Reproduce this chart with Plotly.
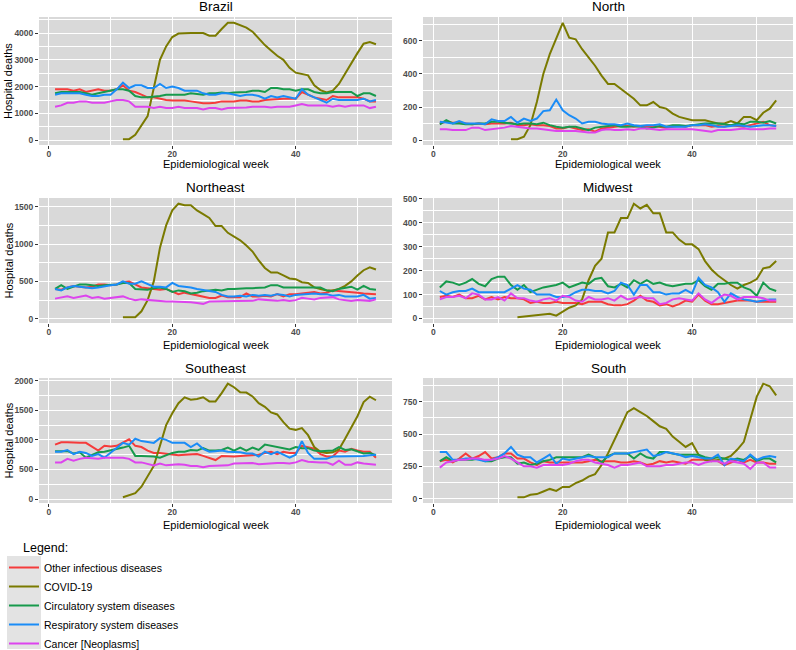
import plotly.graph_objects as go

weeks = list(range(1, 54))
series_names = ["Other infectious diseases", "COVID-19", "Circulatory system diseases",
                "Respiratory system diseases", "Cancer [Neoplasms]"]
colors = ["#F53B3B", "#7A7A00", "#179A4C", "#1A8CF7", "#DD44EE"]
regions = ["Brazil", "North", "Northeast", "Midwest", "Southeast", "South"]
y_dticks = [1000, 200, 500, 100, 500, 250]

# ---------------- Brazil ----------------
brazil_other = [1900,1900,1900,1850,1900,1800,1850,1900,1850,1850,
                1900,2050,1850,1800,1700,1600,1600,1550,1500,1480,
                1480,1480,1450,1420,1380,1380,1400,1450,1450,1450,
                1480,1480,1450,1450,1500,1520,1550,1550,1550,1550,
                1800,1700,1600,1550,1500,1650,1600,1600,1600,1600,
                1550,1450,1450]
brazil_covid = [None]*11 + [40,40,200,550,900,1950,3000,3500,3850,3980,
                4000,4000,4000,4000,3900,3900,4150,4380,4380,4300,
                4200,4050,3800,3550,3350,3150,3000,2700,2520,2480,
                2420,2050,1870,1780,1850,2100,2500,2900,3250,3600,
                3660,3580]
brazil_circ = [1750,1800,1800,1800,1800,1750,1700,1750,1800,1850,
               1900,1900,1850,1650,1600,1600,1620,1650,1700,1700,
               1700,1700,1750,1720,1700,1750,1750,1780,1750,1780,
               1800,1800,1850,1850,1800,1950,1950,1900,1900,1850,
               1900,1900,1800,1750,1750,1800,1800,1800,1800,1650,
               1750,1750,1650]
brazil_resp = [1700,1750,1750,1750,1750,1700,1650,1650,1700,1700,
               1900,2150,1950,2050,2050,1950,1950,2100,1950,2000,
               1950,1850,1850,1850,1750,1700,1700,1750,1750,1700,
               1650,1700,1700,1650,1550,1650,1600,1650,1600,1550,
               1900,1700,1600,1500,1400,1550,1500,1500,1500,1500,
               1550,1450,1500]
brazil_cancer = [1250,1300,1400,1400,1450,1450,1400,1400,1400,1450,
                 1500,1500,1450,1250,1250,1250,1200,1250,1200,1200,
                 1250,1200,1200,1200,1150,1200,1200,1150,1200,1200,
                 1220,1220,1250,1250,1250,1220,1250,1250,1250,1300,
                 1350,1300,1300,1300,1300,1250,1300,1250,1300,1300,
                 1300,1200,1250]

# ---------------- North ----------------
north_other = [100,110,105,105,100,95,100,95,100,100,
               100,105,90,90,95,90,90,85,70,70,
               80,70,60,65,50,70,75,80,85,85,
               80,85,80,85,80,75,80,85,80,90,
               90,90,80,85,80,90,85,80,90,100,
               110,90,85]
north_covid = [None]*11 + [5,5,20,90,230,400,520,620,710,620,
               610,550,500,450,390,340,340,310,280,250,
               210,210,230,200,190,160,140,130,120,120,
               120,110,100,100,115,100,140,140,120,165,
               190,240]
north_circ = [95,120,100,100,95,95,100,100,110,110,
              105,100,95,100,100,95,105,90,80,75,
              80,80,70,60,75,80,85,90,80,80,
              85,80,70,75,85,80,90,90,85,90,
              95,100,100,100,95,90,100,95,110,110,
              105,115,100]
north_resp = [110,105,100,115,100,100,100,95,125,115,
              115,140,105,130,115,130,175,180,245,180,
              150,130,100,110,110,100,95,95,90,100,
              90,85,90,90,95,80,80,80,80,90,
              90,95,90,80,80,85,90,85,80,85,
              90,90,85]
north_cancer = [65,65,60,60,60,75,75,60,65,70,
                75,85,80,75,70,70,65,60,55,55,
                55,55,50,45,45,60,65,60,60,65,
                60,70,70,65,60,65,65,65,65,65,
                60,55,50,60,60,60,65,70,65,65,
                65,70,70]

# ---------------- Northeast ----------------
northeast_other = [400,390,420,440,430,420,430,460,460,450,
                   460,490,500,460,420,410,400,390,400,370,
                   330,350,330,320,300,280,280,310,290,290,
                   290,340,300,300,310,300,330,300,330,330,
                   340,350,360,340,350,380,370,360,350,350,
                   340,330,330]
northeast_covid = [None]*11 + [20,20,20,100,250,500,950,1250,1450,1540,
                   1520,1520,1450,1400,1350,1240,1240,1150,1100,1050,
                   980,900,780,680,620,620,580,540,530,490,
                   480,420,400,380,380,400,440,500,580,650,
                   690,660]
northeast_circ = [400,450,400,430,460,460,450,440,450,450,
                  460,480,480,400,390,390,410,420,400,360,
                  380,370,340,350,370,380,390,380,400,400,
                  410,410,410,420,420,450,450,420,420,430,
                  430,420,420,420,380,370,400,420,430,390,
                  440,400,390]
northeast_resp = [400,380,420,440,430,420,410,420,440,450,
                  460,500,470,470,500,460,430,430,420,480,
                  440,430,420,400,390,380,360,320,300,300,
                  310,300,320,310,320,310,330,320,300,320,
                  330,340,340,330,330,310,320,300,300,300,
                  320,270,280]
northeast_cancer = [270,280,300,280,290,310,280,290,270,280,
                    290,300,270,250,260,250,250,240,230,230,
                    230,230,220,210,200,230,230,230,230,230,
                    240,240,240,260,250,240,240,250,240,250,
                    280,270,260,280,290,290,260,250,240,250,
                    250,240,260]

# ---------------- Midwest ----------------
midwest_other = [90,95,90,100,85,85,95,80,90,80,
                 90,85,85,80,65,70,65,65,70,65,
                 65,65,60,70,70,70,60,55,55,60,
                 75,95,75,70,55,60,50,60,75,70,
                 100,75,60,60,65,70,75,75,75,70,
                 70,70,70]
midwest_covid = [None]*12 + [5,8,10,12,15,20,12,30,45,55,
                 80,160,220,250,360,360,420,420,480,460,
                 475,440,440,360,360,330,310,310,290,240,
                 205,180,160,140,125,140,150,165,210,215,
                 240]
midwest_circ = [130,155,150,140,150,165,145,135,165,175,
                175,140,120,140,110,120,130,135,140,150,
                130,140,150,145,165,170,135,130,145,130,
                160,145,160,145,150,140,135,140,145,145,
                160,135,120,145,145,150,150,130,120,95,
                150,125,115]
midwest_resp = [115,100,110,115,115,125,110,110,110,110,
                110,125,140,125,120,100,100,100,90,90,
                95,110,120,120,115,115,105,115,150,140,
                100,140,140,110,110,100,105,105,120,105,
                170,140,130,110,70,105,90,80,75,70,
                75,80,80]
midwest_cancer = [80,90,90,95,85,105,100,80,80,90,
                  75,105,85,85,75,70,80,85,75,95,
                  90,75,70,90,80,80,85,75,95,80,
                  85,90,85,85,60,65,80,85,80,75,
                  105,80,65,85,100,95,80,90,90,90,
                  85,75,75]

# ---------------- Southeast ----------------
southeast_other = [920,960,960,950,950,950,880,820,900,890,
                   900,960,1010,900,880,820,780,780,770,750,
                   740,750,760,760,730,700,660,730,720,720,
                   730,740,750,750,780,800,760,800,780,780,
                   900,880,850,760,720,720,820,800,850,820,
                   800,800,700]
southeast_covid = [None]*11 + [30,70,100,210,385,560,900,1250,1450,1620,
                   1720,1680,1690,1720,1650,1650,1790,1950,1890,1805,
                   1800,1735,1620,1560,1465,1430,1300,1190,1170,1200,
                   1080,880,800,780,790,840,1020,1200,1400,1640,
                   1730,1670]
southeast_circ = [810,810,810,770,790,700,740,790,800,820,
                  850,870,900,730,730,730,720,700,740,780,
                  800,800,830,820,860,820,820,830,870,820,
                  870,820,870,830,920,900,890,870,840,880,
                  860,860,820,810,820,820,880,830,840,800,
                  770,780,740]
southeast_resp = [800,800,830,760,800,780,730,760,700,780,
                  870,950,920,1020,980,970,950,1030,1000,950,
                  950,950,880,940,850,800,810,820,800,800,
                  790,770,770,720,800,760,800,750,700,750,
                  980,780,680,680,680,720,720,720,720,730,
                  730,740,750]
southeast_cancer = [620,620,680,650,680,700,690,680,700,700,
                    700,700,680,620,620,600,570,600,570,580,
                    590,580,560,560,540,560,560,560,570,600,
                    600,610,610,590,600,610,610,610,600,620,
                    660,630,620,620,620,580,650,580,580,620,
                    600,590,580]

# ---------------- South ----------------
south_other = [290,300,280,310,350,310,330,360,310,320,
               350,350,310,310,280,260,290,280,280,280,
               280,280,280,290,300,290,290,290,280,280,
               290,280,260,270,290,280,290,280,270,300,
               300,300,300,290,260,280,300,280,300,280,
               280,270,270]
south_covid = [None]*12 + [10,10,30,35,55,75,60,90,90,120,
               140,170,190,260,350,450,560,670,700,670,
               640,600,560,540,480,440,400,430,340,300,
               290,300,310,330,380,440,620,790,890,870,
               800]
south_circ = [290,320,290,300,300,300,310,290,290,310,
              320,320,270,280,260,270,290,300,320,320,
              320,320,320,340,320,280,330,350,350,350,
              310,350,320,310,360,360,350,340,340,340,
              340,320,310,320,310,300,310,300,330,290,
              310,310,280]
south_resp = [360,360,300,300,310,310,300,290,300,320,
              350,400,340,320,320,280,310,340,270,310,
              300,310,320,330,320,320,320,350,350,350,
              360,370,380,330,340,360,350,340,320,330,
              320,310,310,340,260,310,300,290,340,300,
              320,330,320]
south_cancer = [240,280,290,300,300,310,310,300,300,310,
                330,310,280,250,250,240,260,260,260,260,
                270,290,300,300,280,270,260,240,260,260,
                270,280,250,250,250,260,260,270,280,280,
                260,280,290,290,270,290,280,270,230,280,
                280,240,240]

region_data = [
    [brazil_other, brazil_covid, brazil_circ, brazil_resp, brazil_cancer],
    [north_other, north_covid, north_circ, north_resp, north_cancer],
    [northeast_other, northeast_covid, northeast_circ, northeast_resp, northeast_cancer],
    [midwest_other, midwest_covid, midwest_circ, midwest_resp, midwest_cancer],
    [southeast_other, southeast_covid, southeast_circ, southeast_resp, southeast_cancer],
    [south_other, south_covid, south_circ, south_resp, south_cancer],
]

W, H = 796, 650
FONT = "Liberation Sans, Arial, sans-serif"
col_px = [(39, 392), (423, 793)]
row_px = [(17, 145), (198, 323), (378, 503)]
title_y_px = [7, 187, 368]
xtitle_y_px = [164, 345, 525]

def px_x(p):
    return p / W

def px_y(p):
    return 1 - p / H

fig = go.Figure()
annotations = []
layout_axes = {}

for i, region in enumerate(regions):
    r, c = divmod(i, 2)
    n = i + 1
    xa = "x" if n == 1 else f"x{n}"
    ya = "y" if n == 1 else f"y{n}"
    for k, name in enumerate(series_names):
        fig.add_trace(go.Scatter(
            x=weeks, y=region_data[i][k], mode="lines", name=name,
            line=dict(color=colors[k], width=2), legendgroup=name,
            showlegend=(i == 0), xaxis=xa, yaxis=ya, connectgaps=False,
            hoverinfo="skip"))
    vals = [v for s in region_data[i] for v in s if v is not None]
    lo, hi = min(vals), max(vals)
    pad = 0.05 * (hi - lo)
    xpad = 0.05 * (max(weeks) - min(weeks))
    x0, x1 = col_px[c]
    y0, y1 = row_px[r]
    axis_common = dict(
        showgrid=True, gridcolor="white", gridwidth=1.3, zeroline=False,
        showline=False, ticks="outside", ticklen=3, tickcolor="#333333",
        tickwidth=1, tickfont=dict(family=FONT, size=8.5, color="#4D4D4D", weight="bold"),
        fixedrange=True,
    )
    layout_axes["xaxis" if n == 1 else f"xaxis{n}"] = dict(
        axis_common, domain=[px_x(x0), px_x(x1)], anchor=ya,
        range=[min(weeks) - xpad, max(weeks) + xpad], tick0=0, dtick=20,
        ticklabelstandoff=-2,
        minor=dict(tick0=0, dtick=10, showgrid=True, gridcolor="white", gridwidth=0.6, ticks=""),
    )
    layout_axes["yaxis" if n == 1 else f"yaxis{n}"] = dict(
        axis_common, domain=[px_y(y1), px_y(y0)], anchor=xa,
        range=[lo - pad, hi + pad], tick0=0, dtick=y_dticks[i],
        minor=dict(tick0=0, dtick=y_dticks[i] / 2, showgrid=True, gridcolor="white", gridwidth=0.6, ticks=""),
    )
    # subplot title
    annotations.append(dict(
        text=region, x=px_x((x0 + x1) / 2), y=px_y(title_y_px[r]), xref="paper", yref="paper",
        xanchor="center", yanchor="middle", showarrow=False,
        font=dict(family=FONT, size=13.5, color="black")))
    # x axis title
    annotations.append(dict(
        text="Epidemiological week", x=px_x((x0 + x1) / 2), y=px_y(xtitle_y_px[r]),
        xref="paper", yref="paper", xanchor="center", yanchor="middle", showarrow=False,
        font=dict(family=FONT, size=11, color="black")))
    if c == 0:
        annotations.append(dict(
            text="Hospital deaths", x=px_x(8), y=px_y((y0 + y1) / 2), xref="paper", yref="paper",
            xanchor="center", yanchor="middle", showarrow=False, textangle=-90,
            font=dict(family=FONT, size=11, color="black")))

annotations.append(dict(
    text="Legend:", x=px_x(21), y=px_y(548), xref="paper", yref="paper",
    xanchor="left", yanchor="middle", showarrow=False,
    font=dict(family=FONT, size=12.5, color="black")))

fig.update_layout(
    width=W, height=H, margin=dict(l=0, r=0, t=0, b=0, autoexpand=False),
    paper_bgcolor="white", plot_bgcolor="#D9D9D9",
    font=dict(family=FONT, color="black"),
    annotations=annotations,
    showlegend=True,
    legend=dict(
        x=px_x(4), y=px_y(553), xanchor="left", yanchor="top",
        bgcolor="rgba(0,0,0,0)", borderwidth=0,
        font=dict(family=FONT, size=10.5, color="black"),
        orientation="v", traceorder="normal", itemclick=False, itemdoubleclick=False,
    ),
    shapes=[dict(type="rect", xref="paper", yref="paper",
                 x0=px_x(7), x1=px_x(41), y0=px_y(556), y1=px_y(649),
                 fillcolor="#E3E3E3", line=dict(width=0), layer="below")],
    **layout_axes,
)

fig.write_html("out.html", config={"displayModeBar": False},
               post_script="document.body.style.margin='0';document.body.style.overflow='hidden';")
